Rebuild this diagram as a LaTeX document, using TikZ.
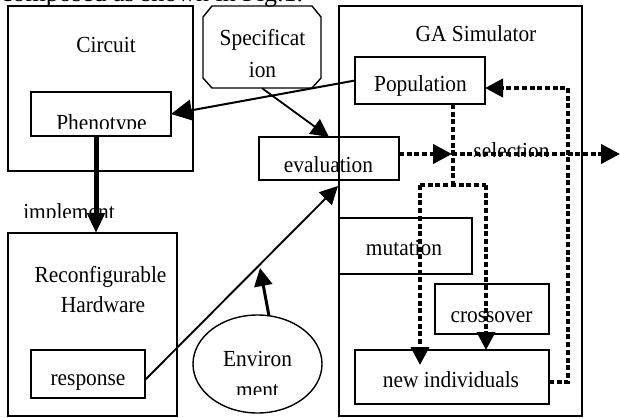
\documentclass[tikz,border=0pt]{standalone}
\usepackage{fontspec}
\setmainfont{Liberation Serif}
\newfontfamily\lblfont[FakeStretch=0.93]{Liberation Serif}
\usetikzlibrary{arrows.meta,shapes.geometric,calc}
\begin{document}
\begin{tikzpicture}[x=1pt,y=-1pt,
  box/.style={draw, line width=1.4pt, inner sep=0pt, outer sep=0pt},
  txt/.style={font=\lblfont\fontsize{23}{27}\selectfont, inner sep=0pt, anchor=base},
  tip/.style={-{Triangle[length=#1,width=#1]}},
  tip/.default=18pt,
  dotline/.style={line width=4pt, dash pattern=on 5pt off 2.7pt},
]
\useasboundingbox (0,0) rectangle (620,417);
% caption remnant
\begin{scope}
  \clip (0,0) rectangle (620,417);
  \node[font=\fontsize{26}{30}\selectfont, inner sep=0pt, anchor=base west] (cap) at (1,2) {composed as shown in Fig.1.};
\end{scope}
% boxes
\node[box, minimum width=185pt, minimum height=165pt] (circuit) at (100.5,88.5) {};
\node[box, minimum width=140pt, minimum height=44pt] (pheno) at (101,114) {};
\node[inner sep=0pt, minimum width=118pt, minimum height=82pt] (spec) at (262,47) {};
\draw[line width=1.4pt] (203,17) -- (212,6) -- (312,6) -- (321,17) -- (321,78) -- (312,88) -- (212,88) -- (203,78) -- cycle;
\node[box, minimum width=243pt, minimum height=410pt] (ga) at (460.5,211) {};
\node[box, minimum width=130pt, minimum height=47pt] (pop) at (420,80.5) {};
\node[box, minimum width=140pt, minimum height=43pt] (eval) at (329,158.5) {};
\node[box, minimum width=133pt, minimum height=56pt] (mut) at (405.5,246) {};
\node[box, minimum width=114pt, minimum height=50pt] (cross) at (492,309) {};
\node[box, minimum width=194pt, minimum height=54pt] (newind) at (452,377) {};
\node[box, minimum width=169pt, minimum height=183pt] (hw) at (92.5,324.5) {};
\node[box, minimum width=114pt, minimum height=48pt] (resp) at (88,374) {};
\node[box, ellipse, minimum width=129pt, minimum height=98pt] (env) at (257.5,364) {};
% texts
\node[txt] (tcirc) at (106,53) {Circuit};
\begin{scope}
  \clip (31,92) rectangle (171,128.5);
  \node[txt] (tpheno) at (101.5,130) {Phenotype};
\end{scope}
\node[txt] (tspec1) at (262.5,46) {Specificat};
\node[txt] (tspec2) at (262.5,78) {ion};
\node[txt] (tga) at (476,42) {GA Simulator};
\node[txt] (tpop) at (420.5,92) {Population};
\node[txt] (teval) at (328.5,172) {evaluation};
\node[txt] (tmut) at (404,255) {mutation};
\node[txt] (tcross) at (491.5,322) {crossover};
\node[txt] (tnew) at (451,387) {new individuals};
\node[txt] (thw1) at (100.5,282) {Reconfigurable};
\node[txt] (thw2) at (103,312) {Hardware};
\node[txt] (tresp) at (88,385) {response};
\node[txt] (tenv1) at (257.5,366) {Environ};
\begin{scope}
  \clip (200,370) rectangle (320,394);
  \node[txt] (tenv2) at (257.5,397.5) {ment};
\end{scope}
\begin{scope}
  \clip (10,195) rectangle (140,217);
  \node[txt] (timpl) at (69,219) {implement};
\end{scope}
% solid connectors
\draw[line width=2pt, tip=21pt] (pop.west) -- (pheno.east);
\draw[line width=1.8pt, tip=18pt] (spec.south) -- (eval.north);
\draw[line width=5pt, -{Triangle[length=20pt,width=17pt]}] ([xshift=-5pt]pheno.south) -- ([xshift=-5pt]pheno.south |- hw.north);
\coordinate (rtip) at (338,186);
\draw[line width=1.9pt, tip=18pt] ([yshift=-6pt]resp.east) -- (rtip);
\coordinate (etip) at (260,268);
\draw[line width=3pt, tip=18pt] (269,316) -- (etip);
% dotted connectors
\coordinate (c1) at (452,154);
\coordinate (c2) at (620,154);
\draw[dotline, tip=19pt] ([yshift=4.5pt]eval.east) -- (c1);
\draw[dotline, tip=19pt] (c1) -- (c2);
\coordinate (j) at (453,185);
\coordinate (jl) at (420,185);
\coordinate (jr) at (486,185);
\coordinate (lt) at (420,365);
\draw[dotline] ([xshift=33pt]pop.south) -- (j);
\draw[dotline] (jl) -- (jr);
\draw[dotline, tip=18pt] (jl) -- (lt);
\draw[dotline, tip=18pt] (jr) -- (jr |- newind.north);
\coordinate (q1) at (568,382);
\coordinate (q2) at (568,88);
\draw[dotline, tip=18pt] ([yshift=-5pt]newind.east) -- (q1) -- (q2) -- ([yshift=-7.5pt]pop.east);
% selection label
\begin{scope}
  \clip (460,130) rectangle (560,156.5);
  \node[txt] (tsel) at (511.5,158) {selection};
\end{scope}
\end{tikzpicture}
\end{document}
